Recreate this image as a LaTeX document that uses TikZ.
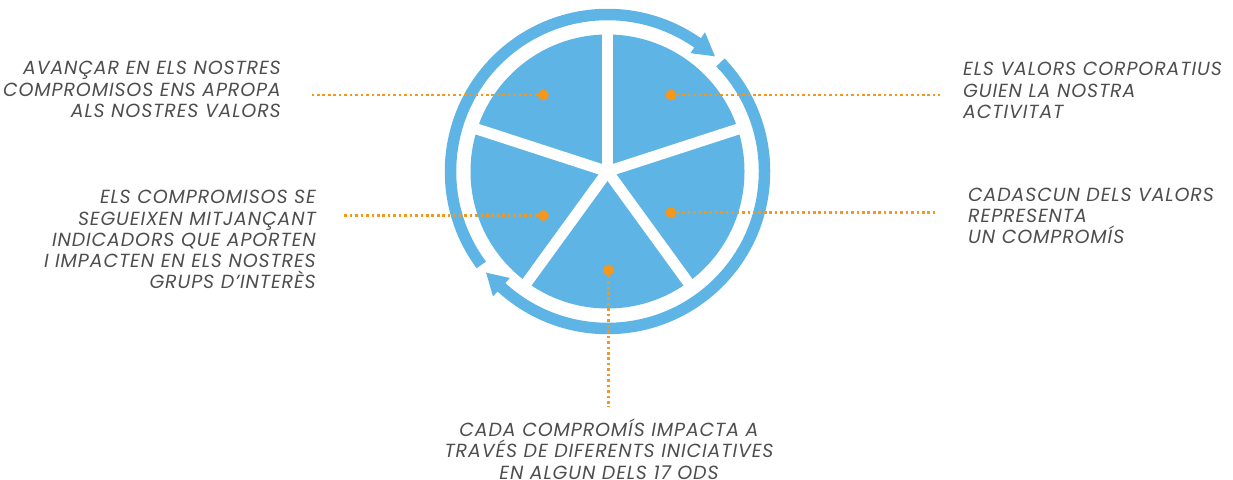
\documentclass[tikz,border=0pt]{standalone}
\usepackage{fontspec}
\newfontfamily\lab{Poppins}[LetterSpace=4.6]
\definecolor{ringblue}{RGB}{93,180,229}
\definecolor{dotorange}{RGB}{243,152,29}
\definecolor{txtgray}{RGB}{78,78,78}
\begin{document}
\begin{tikzpicture}[x=1pt,y=1pt,
 dotline/.style={draw=dotorange, line width=2.6pt, dash pattern=on 2.6pt off 2.85pt},
 marker/.style={circle, fill=dotorange, inner sep=0pt, minimum size=11pt},
 lbl/.style={font=\lab\itshape\fontsize{19}{21.3}\selectfont, text=txtgray, inner sep=0pt},
 ring/.style={draw=ringblue, line width=11.5pt},
 headfill/.style={fill=ringblue},
 gap/.style={draw=white, line width=11pt}]
\useasboundingbox (0,0) rectangle (1233,479);
\coordinate (C) at (607.5,307.5);
% pie
\fill[ringblue] (C) circle (137);
\foreach \a in {90,18,-54,-126,162} \draw[gap] (C) -- ++(\a:142);
% ring arrows
\draw[ring] ([shift={(216.5:157)}]C) arc[start angle=216.5, end angle=54.5, radius=157];
\fill[headfill] ([shift={(55:170)}]C) -- ([shift={(47:157.5)}]C) -- ([shift={(55:144.5)}]C) -- cycle;
\draw[ring] ([shift={(44:157)}]C) arc[start angle=44, end angle=-133, radius=157];
\fill[headfill] ([shift={(-132.5:169.5)}]C) -- ([shift={(-140.2:158)}]C) -- ([shift={(-132.5:144.5)}]C) -- cycle;
% markers
\node[marker] (dUL) at (543.3,384) {};
\node[marker] (dUR) at (671,384) {};
\node[marker] (dL) at (543.3,263.4) {};
\node[marker] (dR) at (671,266.3) {};
\node[marker] (dB) at (608.5,209) {};
\coordinate (eUL) at (310,384);
\coordinate (eUR) at (940,384);
\coordinate (eL) at (343,263.4);
\coordinate (eR) at (938,266.3);
\coordinate (eB) at (608.5,72);
\draw[dotline] (dUL) -- (eUL);
\draw[dotline] (dUR) -- (eUR);
\draw[dotline] (dL) -- (eL);
\draw[dotline] (dR) -- (eR);
\draw[dotline] (dB) -- (eB);
% texts
\node[lbl, anchor=east, align=right] (tUL) at (281,389.5) {AVANÇAR EN ELS NOSTRES\\COMPROMISOS ENS APROPA\\ALS NOSTRES VALORS};
\node[lbl, anchor=east, align=right] (tL) at (316,239.3) {ELS COMPROMISOS SE\\SEGUEIXEN MITJANÇANT\\INDICADORS QUE APORTEN\\I IMPACTEN EN ELS NOSTRES\\GRUPS D’INTERÈS};
\node[lbl, anchor=west, align=left] (tUR) at (963,388.5) {ELS VALORS CORPORATIUS\\GUIEN LA NOSTRA\\ACTIVITAT};
\node[lbl, anchor=west, align=left] (tR) at (968,263) {CADASCUN DELS VALORS\\REPRESENTA\\UN COMPROMÍS};
\node[lbl, anchor=center, align=center] (tB) at (609,30) {CADA COMPROMÍS IMPACTA A\\TRAVÉS DE DIFERENTS INICIATIVES\\EN ALGUN DELS 17 ODS};
\end{tikzpicture}
\end{document}
